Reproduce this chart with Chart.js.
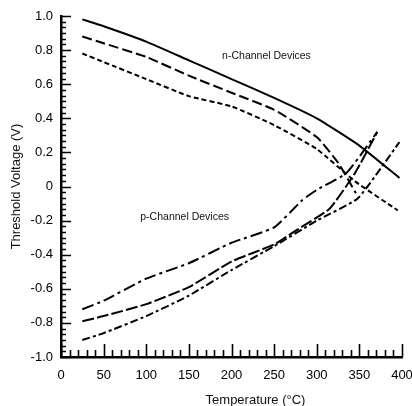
<!DOCTYPE html>
<html>
<head>
<meta charset="utf-8">
<script src="https://cdn.jsdelivr.net/npm/chart.js@4"></script>
<style>
  html, body { margin: 0; padding: 0; background: #fff; }
  #wrap { width: 412px; height: 406px; position: relative; }
</style>
</head>
<body>
<div id="wrap"><canvas id="c" width="412" height="406"></canvas></div>
<script>
// Threshold voltage versus temperature, n- and p-channel devices
const nSolidT  = [25, 50, 100, 150, 200, 250, 300, 350, 397];
const nSolidV  = [0.98, 0.94, 0.85, 0.74, 0.63, 0.52, 0.40, 0.24, 0.05];

const nLongT   = [25, 50, 100, 150, 200, 250, 300, 325, 346];
const nLongV   = [0.88, 0.84, 0.76, 0.65, 0.55, 0.45, 0.29, 0.14, -0.04];

const nShortT  = [25, 50, 100, 150, 200, 250, 300, 345, 395];
const nShortV  = [0.78, 0.73, 0.63, 0.53, 0.47, 0.36, 0.22, 0.03, -0.14];

const pTopT    = [25, 50, 100, 150, 200, 250, 283, 300, 335, 371];
const pTopV    = [-0.72, -0.67, -0.54, -0.45, -0.33, -0.24, -0.08, -0.02, 0.08, 0.32];

const pMidT    = [25, 50, 100, 150, 200, 250, 275, 315, 345, 371];
const pMidV    = [-0.79, -0.76, -0.69, -0.59, -0.44, -0.34, -0.26, -0.13, 0.08, 0.32];

const pLowT    = [25, 50, 100, 150, 200, 250, 300, 348, 397];
const pLowV    = [-0.90, -0.86, -0.76, -0.64, -0.49, -0.35, -0.20, -0.07, 0.26];

const xTickLabels = [0, 50, 100, 150, 200, 250, 300, 350, 400];
const yTickLabels = [-1.0, -0.8, -0.6, -0.4, -0.2, 0, 0.2, 0.4, 0.6, 0.8, 1.0];

const notes = [
  { text: 'n-Channel Devices', t: 189, v: 0.762 },
  { text: 'p-Channel Devices', t: 93, v: -0.178 }
];

const pts = (ts, vs) => ts.map((t, i) => ({ x: t, y: vs[i] }));

function series(ts, vs, dash, width) {
  return {
    data: pts(ts, vs),
    borderColor: '#000',
    borderWidth: width,
    borderDash: dash,
    pointRadius: 0,
    tension: 0.15,
    fill: false
  };
}

// inward tick marks on both axes, plus annotations and the x title
const axisDecor = {
  id: 'axisDecor',
  afterDraw(chart) {
    const { ctx, chartArea: a, scales: { x, y } } = chart;
    ctx.save();
    ctx.strokeStyle = '#000';
    ctx.lineWidth = 1.6;
    ctx.beginPath();
    const minor = 0.2 / 6;
    for (let k = 0; k <= 60; k++) {
      const v = -1 + k * minor;
      const py = Math.round(y.getPixelForValue(v)) + 0.5;
      const len = (k % 6 === 0) ? 10 : 5;
      ctx.moveTo(a.left, py);
      ctx.lineTo(a.left + len, py);
    }
    for (let t = 0; t <= 400; t += 10) {
      const px = Math.round(x.getPixelForValue(t)) + 0.5;
      const len = (t % 50 === 0) ? 13 : 7;
      ctx.moveTo(px, a.bottom);
      ctx.lineTo(px, a.bottom - len);
    }
    ctx.stroke();

    ctx.fillStyle = '#111';
    ctx.textBaseline = 'middle';
    ctx.textAlign = 'left';
    ctx.font = '10.5px "Liberation Sans", Arial, sans-serif';
    notes.forEach(n => {
      ctx.fillText(n.text, x.getPixelForValue(n.t), y.getPixelForValue(n.v));
    });

    ctx.textAlign = 'center';
    ctx.font = '13px "Liberation Sans", Arial, sans-serif';
    ctx.fillText('Temperature (°C)', (a.left + a.right) / 2 + 24, 400);
    ctx.restore();
  }
};

const font = { family: '"Liberation Sans", Arial, sans-serif', size: 13 };

new Chart(document.getElementById('c'), {
  type: 'line',
  data: {
    datasets: [
      series(nSolidT, nSolidV, [], 2),
      series(nLongT, nLongV, [10, 4], 2),
      series(nShortT, nShortV, [5, 3], 2),
      series(pTopT, pTopV, [12, 4, 3, 4], 2),
      series(pMidT, pMidV, [12, 3], 2),
      series(pLowT, pLowV, [8, 3, 3, 3], 2)
    ]
  },
  options: {
    responsive: false,
    animation: false,
    layout: { padding: { top: 16, right: 10, left: 0, bottom: 0 } },
    plugins: { legend: { display: false }, tooltip: { enabled: false } },
    scales: {
      x: {
        type: 'linear',
        min: 0, max: 400,
        afterBuildTicks(s) { s.ticks = xTickLabels.map(v => ({ value: v })); },
        afterFit(s) { s.height = 49; s.paddingRight = 0; s.paddingLeft = 0; },
        ticks: { color: '#000', font, padding: 11, maxRotation: 0, autoSkip: false,
                 callback: v => String(v) },
        grid: { display: false, drawTicks: false },
        border: { display: true, color: '#000', width: 2.5 }
      },
      y: {
        min: -1, max: 1,
        afterBuildTicks(s) { s.ticks = yTickLabels.map(v => ({ value: v })); },
        afterFit(s) { s.width = 61; s.paddingTop = 0; s.paddingBottom = 0; },
        ticks: { color: '#000', font, padding: 8, autoSkip: false,
                 callback: v => (v === 0 ? '0' : v.toFixed(1)) },
        grid: { display: false, drawTicks: false },
        border: { display: true, color: '#000', width: 2.5 },
        title: { display: true, text: 'Threshold Voltage (V)', color: '#111',
                 font, padding: { top: 9, bottom: 0 } }
      }
    }
  },
  plugins: [axisDecor]
});
</script>
</body>
</html>
